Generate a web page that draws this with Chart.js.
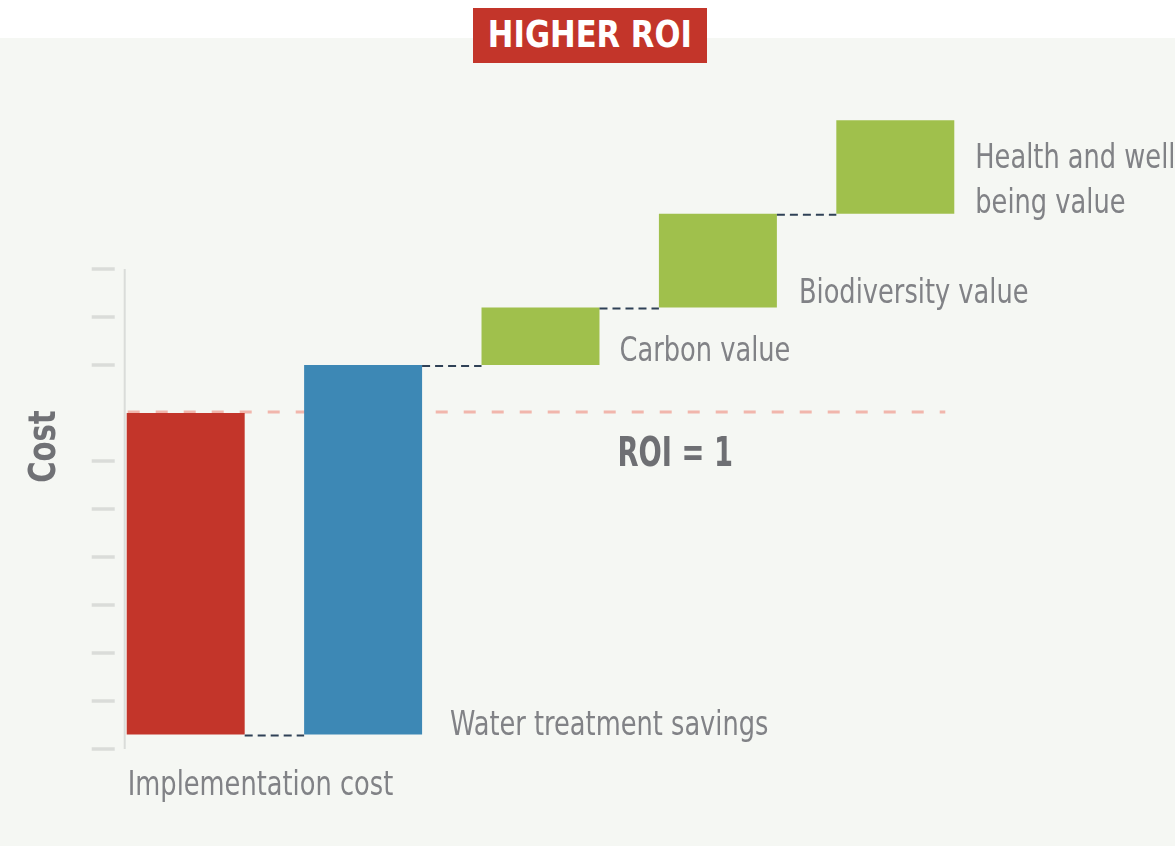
<!DOCTYPE html>
<html>
<head>
<meta charset="utf-8">
<title>Higher ROI</title>
<script src="https://cdn.jsdelivr.net/npm/chart.js@4.4.1/dist/chart.umd.min.js"></script>
<style>
    body { margin: 0; }
    #wrap { position: relative; width: 1175px; height: 846px; background: #f5f7f3; overflow: hidden; }
    #band { position: absolute; left: 0; top: 0; width: 100%; height: 38px; background: #ffffff; }
    #chartBox { position: absolute; left: 0; top: 0; width: 1175px; height: 846px; }
    #title {
        position: absolute; left: 473px; top: 8px; width: 234px; height: 55px;
        background: #c3352a; color: #ffffff; text-align: center; line-height: 68px;
        white-space: nowrap; overflow: hidden;
    }
    #title span {
        display: inline-block; transform: scaleX(0.92);
        font: bold 37px 'DejaVu Sans Condensed', 'DejaVu Sans', sans-serif;
    }
</style>
</head>
<body>
<div id="wrap">
    <div id="band"></div>
    <div id="chartBox"><canvas id="roiChart"></canvas></div>
    <div id="title"><span>HIGHER ROI</span></div>
</div>
<script>
// بيانات الرسم
const categories = ['Implementation cost', 'Water treatment savings', 'Carbon value', 'Biodiversity value', 'Health and well-being value'];
const labelLines = [['Implementation cost'], ['Water treatment savings'], ['Carbon value'], ['Biodiversity value'], ['Health and well-', 'being value']];
const barStart = [0.3, 0.3, 8.0, 9.2, 11.15];
const barEnd = [7.0, 8.0, 9.2, 11.15, 13.1];
const roiLevel = 7.0;
const tickValues = [0, 1, 2, 3, 4, 5, 6, 8, 9, 10];

const barColors = ['#c3352a', '#3d88b5', '#a0c04c', '#a0c04c', '#a0c04c'];
const textColor = '#818286';
const labelFont = "34px 'DejaVu Sans Condensed', 'DejaVu Sans', sans-serif";
const boldFont = "bold 40px 'DejaVu Sans Condensed', 'DejaVu Sans', sans-serif";

// مكان كل تسمية بالنسبة للعمود
const labelLayout = [
    { side: 'left', ref: 'bottom', dx: 1, dy: 60 },
    { side: 'right', ref: 'bottom', dx: 28, dy: 0 },
    { side: 'right', ref: 'bottom', dx: 20, dy: -4 },
    { side: 'right', ref: 'bottom', dx: 22, dy: -4 },
    { side: 'right', ref: 'top', dx: 21, dy: 48 }
];

function barBox(bar) {
    return {
        left: bar.x - bar.width / 2,
        right: bar.x + bar.width / 2,
        top: Math.min(bar.y, bar.base),
        bottom: Math.max(bar.y, bar.base)
    };
}

// نص مضغوط أفقياً ليشبه الخط الضيق
function narrowText(ctx, text, x, y, sx) {
    ctx.save();
    ctx.translate(x, y);
    ctx.scale(sx, 1);
    ctx.fillText(text, 0, 0);
    ctx.restore();
}

const decorPlugin = {
    id: 'decor',
    beforeDatasetsDraw(chart) {
        const ctx = chart.ctx;
        const y = chart.scales.y;
        const bars = chart.getDatasetMeta(0).data;
        const first = barBox(bars[0]);
        const last = barBox(bars[bars.length - 1]);

        // المحور والعلامات
        ctx.save();
        ctx.strokeStyle = '#dadcd9';
        ctx.lineWidth = 2;
        ctx.beginPath();
        ctx.moveTo(first.left - 2, y.getPixelForValue(10));
        ctx.lineTo(first.left - 2, y.getPixelForValue(0));
        ctx.stroke();
        ctx.lineWidth = 3.5;
        tickValues.forEach(v => {
            const py = y.getPixelForValue(v);
            ctx.beginPath();
            ctx.moveTo(first.left - 35, py);
            ctx.lineTo(first.left - 12, py);
            ctx.stroke();
        });

        // خط ROI = 1
        const ry = y.getPixelForValue(roiLevel) - 1;
        ctx.strokeStyle = '#f1b6ac';
        ctx.lineWidth = 3;
        ctx.setLineDash([12, 16]);
        ctx.beginPath();
        ctx.moveTo(first.left + 1, ry);
        ctx.lineTo(last.right - 9, ry);
        ctx.stroke();
        ctx.restore();
    },
    afterDatasetsDraw(chart) {
        const ctx = chart.ctx;
        const y = chart.scales.y;
        const bars = chart.getDatasetMeta(0).data;
        const boxes = bars.map(barBox);

        // خطوط الربط بين الأعمدة
        ctx.save();
        ctx.strokeStyle = '#2f4156';
        ctx.lineWidth = 2;
        ctx.setLineDash([8, 5]);
        for (let i = 1; i < boxes.length; i++) {
            const py = y.getPixelForValue(barStart[i]) + 1;
            ctx.beginPath();
            ctx.moveTo(boxes[i - 1].right, py);
            ctx.lineTo(boxes[i].left, py);
            ctx.stroke();
        }
        ctx.setLineDash([]);

        // التسميات
        ctx.fillStyle = textColor;
        ctx.font = labelFont;
        ctx.textBaseline = 'alphabetic';
        ctx.textAlign = 'left';
        labelLines.forEach((lines, i) => {
            const lay = labelLayout[i];
            const b = boxes[i];
            const x = (lay.side === 'left' ? b.left : b.right) + lay.dx;
            const base = (lay.ref === 'top' ? b.top : b.bottom) + lay.dy;
            lines.forEach((line, j) => narrowText(ctx, line, x, base + j * 45, 0.84));
        });

        // ROI = 1
        ctx.fillStyle = '#6e6f73';
        ctx.font = boldFont;
        narrowText(ctx, 'ROI = 1', boxes[2].left + 136, y.getPixelForValue(roiLevel) + 53, 0.76);

        // عنوان المحور
        ctx.font = "bold 38px 'DejaVu Sans Condensed', 'DejaVu Sans', sans-serif";
        ctx.translate(55, y.getPixelForValue(6.3));
        ctx.rotate(-Math.PI / 2);
        ctx.textAlign = 'center';
        ctx.fillStyle = '#707175';
        narrowText(ctx, 'Cost', 0, 0, 0.85);
        ctx.restore();
    }
};

const roiChart = new Chart(document.getElementById('roiChart').getContext('2d'), {
    type: 'bar',
    data: {
        labels: categories,
        datasets: [{
            data: barStart.map((s, i) => [s, barEnd[i]]),
            backgroundColor: barColors,
            borderWidth: 0,
            barPercentage: 0.665,
            categoryPercentage: 1
        }]
    },
    options: {
        responsive: true,
        maintainAspectRatio: false,
        animation: false,
        layout: { padding: { left: 97, right: 191, top: 29, bottom: 97 } },
        plugins: {
            legend: { display: false },
            tooltip: { enabled: false }
        },
        scales: {
            x: { display: false },
            y: { display: false, min: 0, max: 15 }
        }
    },
    plugins: [decorPlugin]
});
</script>
</body>
</html>
